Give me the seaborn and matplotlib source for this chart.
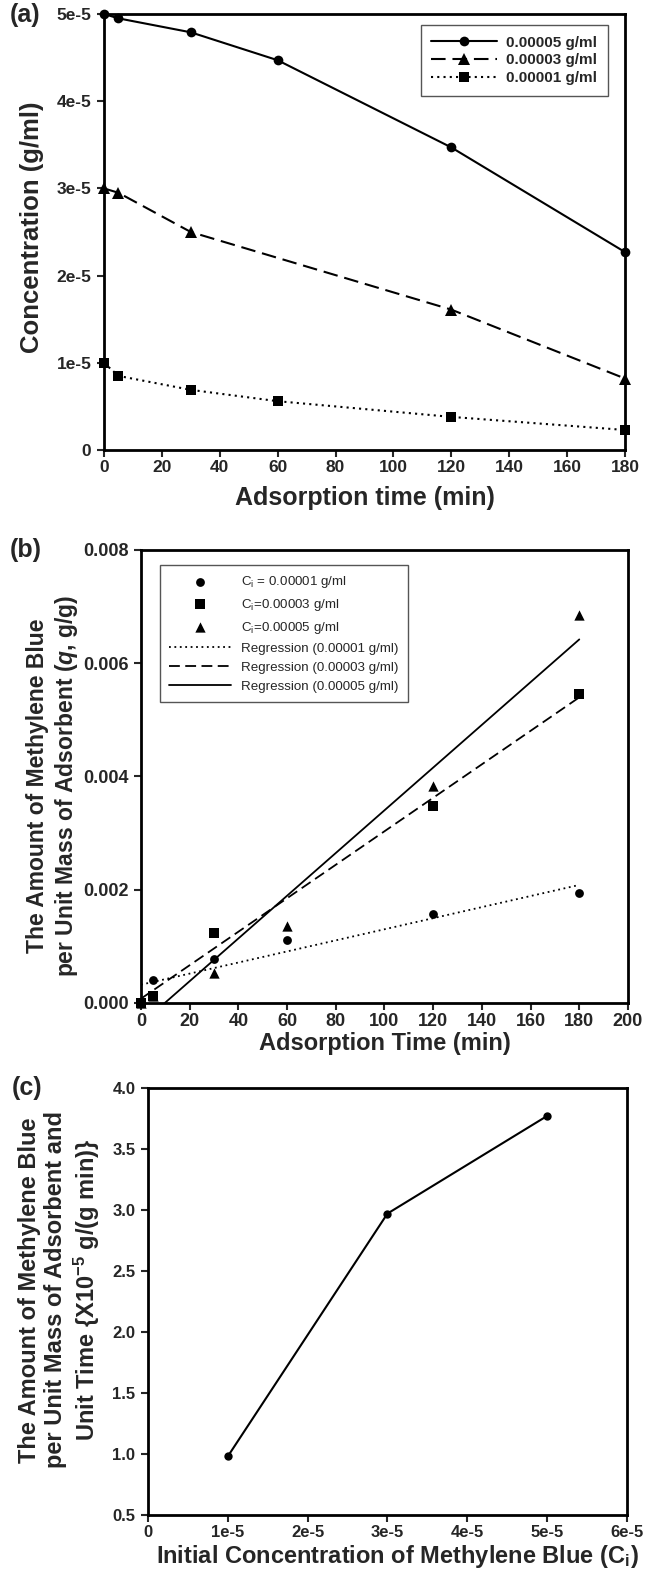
"""
Methylene blue adsorption: concentration decay, adsorbed amount and rate vs. initial concentration.
"""

import matplotlib
matplotlib.use("Agg")
import matplotlib.pyplot as plt
import seaborn as sns
import numpy as np

sns.set_style("white")
plt.rcParams['font.family'] = ['Liberation Sans', 'DejaVu Sans']
plt.rcParams['mathtext.fontset'] = 'custom'
plt.rcParams['mathtext.rm'] = 'Liberation Sans'
plt.rcParams['mathtext.bf'] = 'Liberation Sans:bold'
plt.rcParams['mathtext.it'] = 'Liberation Sans:bold:italic'

# ---- panel (a): concentration vs adsorption time ----
time_a_50 = [0, 5, 30, 60, 120, 180]
conc_a_50 = [5.0e-5, 4.95e-5, 4.79e-5, 4.47e-5, 3.47e-5, 2.27e-5]
time_a_30 = [0, 5, 30, 120, 180]
conc_a_30 = [3.0e-5, 2.95e-5, 2.5e-5, 1.61e-5, 0.82e-5]
time_a_10 = [0, 5, 30, 60, 120, 180]
conc_a_10 = [1.0e-5, 0.85e-5, 0.69e-5, 0.56e-5, 0.38e-5, 0.23e-5]
a_yticks = [0, 1e-5, 2e-5, 3e-5, 4e-5, 5e-5]
a_yticklabels = ['0', '1e-5', '2e-5', '3e-5', '4e-5', '5e-5']
a_xticks = [0, 20, 40, 60, 80, 100, 120, 140, 160, 180]

# ---- panel (b): adsorbed amount q vs time ----
time_b_10 = [0, 5, 30, 60, 120, 180]
q_b_10 = [0.0, 0.00040, 0.00078, 0.00111, 0.00157, 0.00194]
time_b_30 = [0, 5, 30, 120, 180]
q_b_30 = [0.0, 0.00012, 0.00123, 0.00348, 0.00545]
time_b_50 = [0, 5, 30, 60, 120, 180]
q_b_50 = [0.0, 0.00013, 0.00052, 0.00135, 0.00383, 0.00685]
b_xticks = [0, 20, 40, 60, 80, 100, 120, 140, 160, 180, 200]
b_yticks = [0.0, 0.002, 0.004, 0.006, 0.008]

# ---- panel (c): rate vs initial concentration ----
ci_c = [1e-5, 3e-5, 5e-5]
rate_c = [0.98, 2.97, 3.77]
c_xticks = [0, 1e-5, 2e-5, 3e-5, 4e-5, 5e-5, 6e-5]
c_xticklabels = ['0', '1e-5', '2e-5', '3e-5', '4e-5', '5e-5', '6e-5']
c_yticks = [0.5, 1.0, 1.5, 2.0, 2.5, 3.0, 3.5, 4.0]

DOT = (0, (1, 2))
DASH_A = (0, (7, 3.3))
DASH_B = (0, (6, 3))


def style_axes(ax, tick_size):
    for sp in ax.spines.values():
        sp.set_visible(True)
        sp.set_color('black')
        sp.set_linewidth(2)
    ax.tick_params(direction='out', length=5, width=1.5, labelsize=tick_size,
                   bottom=True, left=True, top=False, right=False)
    ax.tick_params(axis='x', pad=2)
    ax.tick_params(axis='y', pad=4)
    for lbl in ax.get_xticklabels() + ax.get_yticklabels():
        lbl.set_fontweight('bold')


fig = plt.figure(figsize=(6.47, 15.73), dpi=100)

# ================= (a) =================
ax = fig.add_axes([0.1607, 0.7139, 0.8053, 0.2772])
kw = dict(color='black', linewidth=1.5, mec='black', mew=0,
          ax=ax, sort=False, errorbar=None, clip_on=False)
sns.lineplot(x=time_a_50, y=conc_a_50, marker='o', markersize=7, linestyle='-',
             label='0.00005 g/ml', **kw)
sns.lineplot(x=time_a_30, y=conc_a_30, marker='^', markersize=8.5, linestyle=DASH_A,
             label='0.00003 g/ml', **kw)
sns.lineplot(x=time_a_10, y=conc_a_10, marker='s', markersize=7, linestyle=DOT,
             label='0.00001 g/ml', **kw)
ax.set_xlim(0, 180)
ax.set_ylim(0, 5e-5)
ax.set_xticks(a_xticks)
ax.set_yticks(a_yticks)
ax.set_yticklabels(a_yticklabels)
style_axes(ax, 12.5)
ax.set_xlabel('Adsorption time (min)', fontsize=18, fontweight='bold')
ax.set_ylabel('Concentration (g/ml)', fontsize=18.5, fontweight='bold')
ax.xaxis.set_label_coords(0.5, -0.082)
ax.yaxis.set_label_coords(-0.115, 0.51)
leg = ax.legend(loc='upper right', bbox_to_anchor=(0.967, 0.975), borderaxespad=0,
                fontsize=11, handlelength=4.3, handletextpad=0.6, fancybox=False,
                framealpha=1, edgecolor='#555555', borderpad=0.7, labelspacing=0.25)
leg.get_frame().set_linewidth(1)
for t in leg.get_texts():
    t.set_fontweight('bold')
fig.text(10 / 647, 1 - 3 / 1573, '(a)', fontsize=18, fontweight='bold', va='top', ha='left')

# ================= (b) =================
ax = fig.add_axes([0.2179, 0.3624, 0.7527, 0.288])
skw = dict(color='black', edgecolor='black', linewidth=0, ax=ax, clip_on=False, zorder=3)
sns.scatterplot(x=time_b_10, y=q_b_10, marker='o', s=40,
                label=r'C$_\mathrm{i}$ = 0.00001 g/ml', **skw)
sns.scatterplot(x=time_b_30, y=q_b_30, marker='s', s=42,
                label=r'C$_\mathrm{i}$=0.00003 g/ml', **skw)
sns.scatterplot(x=time_b_50, y=q_b_50, marker='^', s=55,
                label=r'C$_\mathrm{i}$=0.00005 g/ml', **skw)

fit_x = np.array([0, 180])
for tx, qy, ls, name in [(time_b_10, q_b_10, DOT, 'Regression (0.00001 g/ml)'),
                         (time_b_30, q_b_30, DASH_B, 'Regression (0.00003 g/ml)'),
                         (time_b_50, q_b_50, '-', 'Regression (0.00005 g/ml)')]:
    coef = np.polyfit(tx, qy, 1)
    sns.lineplot(x=fit_x, y=np.polyval(coef, fit_x), color='black', linewidth=1.3,
                 linestyle=ls, label=name, ax=ax, errorbar=None)

ax.set_xlim(0, 200)
ax.set_ylim(0, 0.008)
ax.set_xticks(b_xticks)
ax.set_yticks(b_yticks)
ax.set_yticklabels([f'{v:.3f}' for v in b_yticks])
style_axes(ax, 13)
ax.set_xlabel('Adsorption Time (min)', fontsize=17, fontweight='bold')
ax.set_ylabel('The Amount of Methylene Blue\nper Unit Mass of Adsorbent ($q$, g/g)',
              fontsize=16.5, fontweight='bold', linespacing=1.2)
ax.xaxis.set_label_coords(0.5, -0.064)
ax.yaxis.set_label_coords(-0.125, 0.48)
leg = ax.legend(loc='upper left', bbox_to_anchor=(0.039, 0.967), borderaxespad=0,
                fontsize=9.6, handlelength=4.6, fancybox=False, framealpha=1,
                edgecolor='#555555', borderpad=0.7, labelspacing=0.5)
leg.get_frame().set_linewidth(1)
fig.text(10 / 647, 1 - 538 / 1573, '(b)', fontsize=18, fontweight='bold', va='top', ha='left')

# ================= (c) =================
ax = fig.add_axes([0.2287, 0.0369, 0.7403, 0.2715])
sns.lineplot(x=ci_c, y=rate_c, marker='o', color='black', linewidth=1.5, markersize=6,
             mec='black', mew=0, ax=ax, errorbar=None, sort=False)
ax.set_xlim(0, 6e-5)
ax.set_ylim(0.5, 4.0)
ax.set_xticks(c_xticks)
ax.set_xticklabels(c_xticklabels)
ax.set_yticks(c_yticks)
ax.set_yticklabels([f'{v:.1f}' for v in c_yticks])
style_axes(ax, 12)
ax.set_xlabel(r'Initial Concentration of Methylene Blue (C$_\mathbf{i}$)',
              fontsize=17, fontweight='bold')
ax.set_ylabel('The Amount of Methylene Blue\nper Unit Mass of Adsorbent and\n'
              r'Unit Time {X10$^{\mathbf{-5}}$ g/(g min)}',
              fontsize=17, fontweight='bold', linespacing=1.2)
ax.xaxis.set_label_coords(0.52, -0.066)
ax.yaxis.set_label_coords(-0.096, 0.527)
fig.text(12 / 647, 1 - 1076 / 1573, '(c)', fontsize=18, fontweight='bold', va='top', ha='left')

fig.savefig('out.png', dpi=100)
